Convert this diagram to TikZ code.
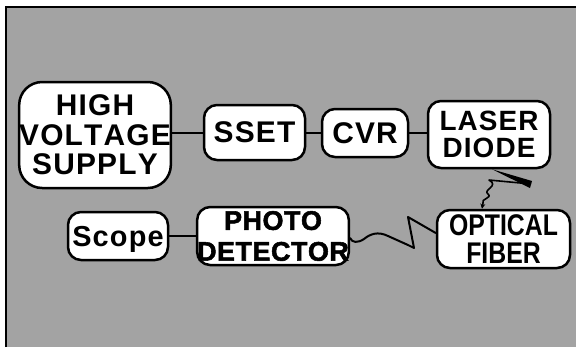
\documentclass[tikz,border=0pt]{standalone}
\usepackage{fontspec}
\setmainfont{Liberation Sans}[Kerning=Off, LetterSpace=4]
\newfontfamily\pdfont{Liberation Sans Bold}[FakeBold=2, Kerning=Off, LetterSpace=2]
\newfontfamily\ofont{Liberation Sans Bold}[FakeStretch=0.83, Kerning=Off]
\usetikzlibrary{arrows.meta}
\begin{document}
\begin{tikzpicture}[x=1bp,y=-1bp,
  box/.style={draw=black, line width=2.5bp, fill=white, rounded corners=13bp,
              inner sep=0pt, align=center},
  wire/.style={line width=2bp, line join=round, line cap=round},
  big/.style={font=\fontsize{30}{29.5}\selectfont\bfseries}]
\useasboundingbox (0,0) rectangle (576,347);
\fill[white] (0,0) rectangle (576,347);
\fill[black!36] (6,7) rectangle (576,347);
\draw[line width=2.2bp] (6,347) -- (6,7) -- (576,7);

\node[box, big, rounded corners=23bp, minimum width=150bp, minimum height=106bp] (hvs) at (95,135) {HIGH\\VOLTAGE\\SUPPLY};
\node[box, big, minimum width=101bp, minimum height=55bp] (sset) at (254.5,132.5) {SSET};
\node[box, big, minimum width=86bp, minimum height=48bp] (cvr) at (365,133) {CVR};
\node[box, font=\fontsize{28}{27}\selectfont\bfseries, minimum width=122bp, minimum height=67bp] (ld) at (489,134.5) {LASER\\DIODE};
\node[box, font=\fontsize{29}{29}\selectfont\bfseries, text depth=0pt, minimum width=100bp, minimum height=48bp] (scope) at (118,236) {Scope};
\node[box, font=\fontsize{27}{31}\pdfont, minimum width=148bp, minimum height=58bp] (pd) at (273,236) {PHOTO\\DETECTOR};
\node[box, font=\fontsize{30}{28}\ofont, minimum width=133bp, minimum height=58bp] (of) at (503.5,239) {OPTICAL\\FIBER};

\draw[wire] (hvs.east |- sset.west) -- (sset.west);
\draw[wire] (sset.east) -- (sset.east -| cvr.west);
\draw[wire] (cvr.east) -- (cvr.east -| ld.west);
\draw[wire] (scope.east) -- (scope.east -| pd.west);

% spark from laser diode to optical fiber
\coordinate (sp) at (531,184);
\fill ([xshift=3bp]ld.south) -- (532,181) -- (530,188) -- cycle;
\draw[line width=1.6bp, line join=round, -{Stealth[length=5bp,width=5bp]}]
  (sp) -- (489,180) .. controls (500,186) and (482,190) .. (488,194)
  .. controls (493,198) and (480,199) .. (483,203) -- ([xshift=-21.5bp]of.north);

% wavy light path from optical fiber to photo detector
\draw[wire] ([yshift=-2bp]pd.east) .. controls (352,243) and (358,243) .. (364,239)
  .. controls (370,234) and (378,231) .. (388,236)
  -- (408,245) -- (414,248) -- (408,217) -- ([yshift=6bp]of.west);
\end{tikzpicture}
\end{document}
